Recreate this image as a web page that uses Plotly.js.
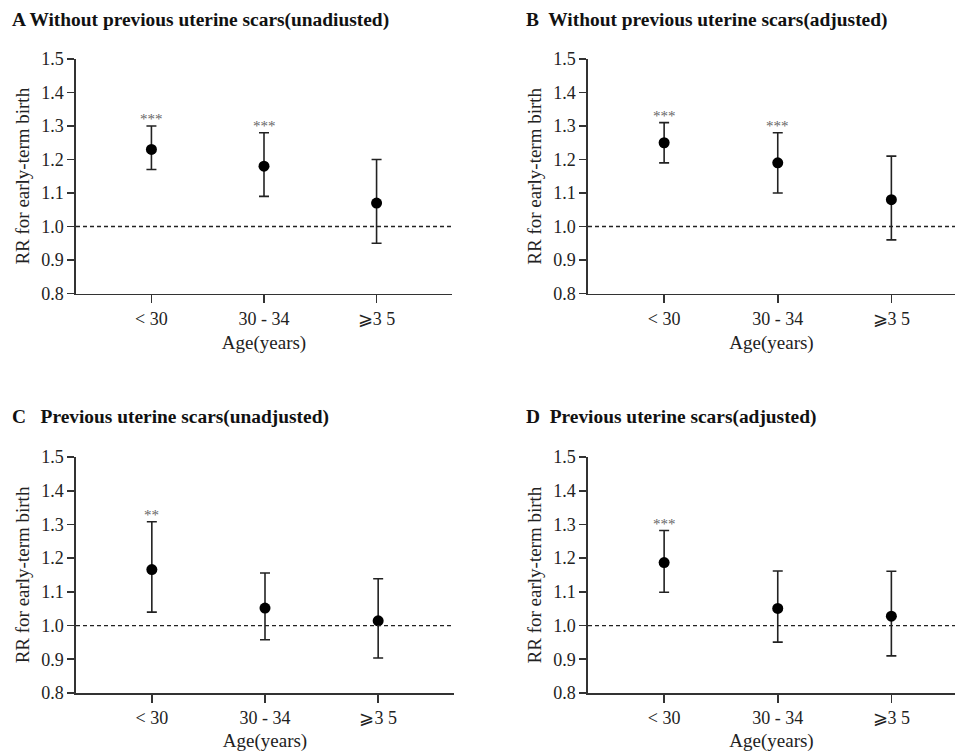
<!DOCTYPE html>
<html>
<head>
<meta charset="utf-8">
<script src="https://cdn.plot.ly/plotly-3.0.1.min.js"></script>
<style>html,body{margin:0;padding:0;background:#fff}#chart{width:955px;height:752px}</style>
</head>
<body>
<div id="chart"></div>
<script>
// ---- data ----
const categories = ["< 30", "30 - 34", "⩾3 5"];
const panelTitles = [
  "A Without previous uterine scars(unadiusted)",
  "B  Without previous uterine scars(adjusted)",
  "C   Previous uterine scars(unadjusted)",
  "D  Previous uterine scars(adjusted)"
];
const rrA = [1.23, 1.18, 1.07];
const lowA = [1.17, 1.09, 0.95];
const highA = [1.30, 1.28, 1.20];
const starsA = ["***", "***", ""];

const rrB = [1.25, 1.19, 1.08];
const lowB = [1.19, 1.10, 0.96];
const highB = [1.31, 1.28, 1.21];
const starsB = ["***", "***", ""];

const rrC = [1.166, 1.052, 1.014];
const lowC = [1.040, 0.958, 0.904];
const highC = [1.308, 1.156, 1.139];
const starsC = ["**", "", ""];

const rrD = [1.187, 1.051, 1.028];
const lowD = [1.099, 0.951, 0.910];
const highD = [1.282, 1.162, 1.161];
const starsD = ["***", "", ""];

const yTicks = [0.8, 0.9, 1.0, 1.1, 1.2, 1.3, 1.4, 1.5];
const yTickText = ["0.8", "0.9", "1.0", "1.1", "1.2", "1.3", "1.4", "1.5"];
const yTitle = "RR for early-term birth";
const xTitle = "Age(years)";
const refLine = 1.0;

// ---- build ----
const panels = [
  {rr: rrA, lo: lowA, hi: highA, st: starsA},
  {rr: rrB, lo: lowB, hi: highB, st: starsB},
  {rr: rrC, lo: lowC, hi: highC, st: starsC},
  {rr: rrD, lo: lowD, hi: highD, st: starsD}
];
const W = 955, H = 752;
const xDom = [[76/W, 452/W], [588/W, 1.0], [76/W, 454/W], [588/W, 1.0]];
const yDom = [[1-293.5/H, 1-59/H], [1-293.5/H, 1-59/H], [1-693/H, 1-457/H], [1-693/H, 1-457/H]];
const xRange = [[-0.67, 2.67], [-0.67, 2.56], [-0.67, 2.67], [-0.67, 2.56]];
const titlePos = [[10/W, 1-20/H], [524/W, 1-20/H], [10/W, 1-417/H], [524/W, 1-417/H]];

const serif = "Liberation Serif";
const axColor = "#333";
const data = [];
const layout = {
  width: W, height: H,
  margin: {l: 0, r: 0, t: 0, b: 0},
  paper_bgcolor: "#fff", plot_bgcolor: "#fff",
  showlegend: false,
  font: {family: serif, color: "#222", size: 17},
  shapes: [], annotations: []
};

panels.forEach((p, i) => {
  const n = i === 0 ? "" : String(i + 1);
  data.push({
    type: "scatter", mode: "markers",
    x: categories, y: p.rr,
    xaxis: "x" + n, yaxis: "y" + n,
    marker: {color: "#000", size: 11},
    error_y: {
      type: "data", symmetric: false,
      array: p.hi.map((h, k) => h - p.rr[k]),
      arrayminus: p.rr.map((v, k) => v - p.lo[k]),
      color: "#222", thickness: 1.6, width: 5
    },
    hoverinfo: "skip"
  });
  layout["xaxis" + n] = {
    domain: xDom[i], anchor: "y" + n,
    type: "category", categoryarray: categories, range: xRange[i],
    showline: true, linecolor: axColor, linewidth: 1.6,
    ticks: "outside", ticklen: 8, tickwidth: 1.6, tickcolor: axColor,
    showgrid: false, zeroline: false,
    tickfont: {family: serif, size: 18, color: "#222"},
    title: {text: xTitle, font: {family: serif, size: 19, color: "#222"}, standoff: 8}
  };
  layout["yaxis" + n] = {
    domain: yDom[i], anchor: "x" + n,
    range: [0.8, 1.5], tickvals: yTicks, ticktext: yTickText,
    showline: true, linecolor: axColor, linewidth: 1.6,
    ticks: "outside", ticklen: 7, tickwidth: 1.6, tickcolor: axColor,
    showgrid: false, zeroline: false,
    tickfont: {family: serif, size: 18, color: "#222"},
    title: {text: yTitle, font: {family: serif, size: 19, color: "#222"}, standoff: 6}
  };
  layout.shapes.push({
    type: "line", xref: "x" + n + " domain", yref: "y" + n,
    x0: 0, x1: 1, y0: refLine, y1: refLine,
    line: {color: "#222", width: 1.3, dash: "4px,3px"}
  });
  p.st.forEach((s, k) => {
    if (!s) return;
    layout.annotations.push({
      xref: "x" + n, yref: "y" + n, x: categories[k], y: p.hi[k],
      text: s, showarrow: false, yanchor: "bottom", yshift: -3,
      font: {family: serif, size: 15, color: "#666"}
    });
  });
  layout.annotations.push({
    xref: "paper", yref: "paper", x: titlePos[i][0], y: titlePos[i][1],
    xanchor: "left", yanchor: "middle", showarrow: false,
    text: "<b>" + panelTitles[i] + "</b>",
    font: {family: serif, size: 19.4, color: "#111"}
  });
});

Plotly.newPlot("chart", data, layout, {displayModeBar: false, staticPlot: true});
</script>
</body>
</html>
